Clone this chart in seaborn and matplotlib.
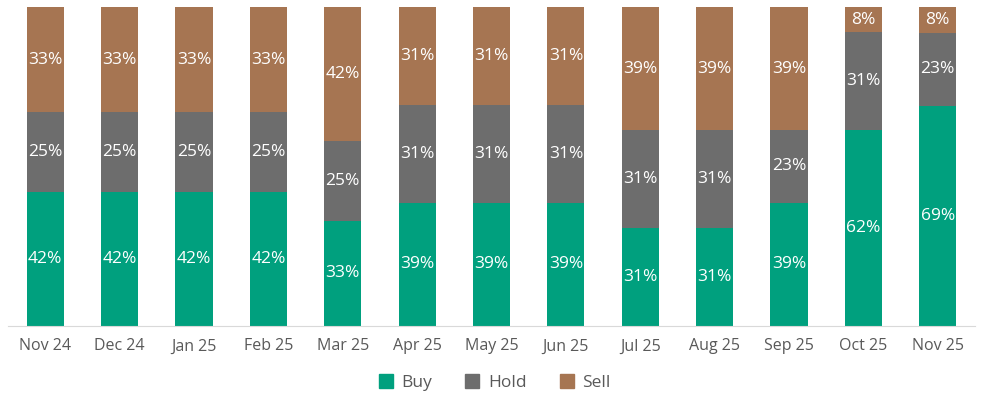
import matplotlib
matplotlib.use("Agg")
import matplotlib.pyplot as plt
import seaborn as sns
import pandas as pd
import numpy as np

# data (percent labels as shown)
months = ["Nov 24", "Dec 24", "Jan 25", "Feb 25", "Mar 25", "Apr 25", "May 25",
          "Jun 25", "Jul 25", "Aug 25", "Sep 25", "Oct 25", "Nov 25"]
buy = [42, 42, 42, 42, 33, 39, 39, 39, 31, 31, 39, 62, 69]
hold = [25, 25, 25, 25, 25, 31, 31, 31, 31, 31, 23, 31, 23]
sell = [33, 33, 33, 33, 42, 31, 31, 31, 39, 39, 39, 8, 8]

colors = {"Buy": "#00A07E", "Hold": "#6D6D6D", "Sell": "#A67552"}

df = pd.DataFrame({"month": months, "Buy": buy, "Hold": hold, "Sell": sell})
# rounded labels don't always add to 100, so scale each bar to 100
total = df[["Buy", "Hold", "Sell"]].sum(axis=1)
df["b"] = df["Buy"] / total * 100
df["bh"] = (df["Buy"] + df["Hold"]) / total * 100
df["bhs"] = 100.0

sns.set_style("white")
plt.rcParams["font.family"] = ["Open Sans", "DejaVu Sans"]

fig = plt.figure(figsize=(9.88, 3.99), dpi=100)
ax = fig.add_axes([8 / 988, 73 / 399, 967 / 988, 319 / 399])

# stacked bars: draw cumulative heights, tallest first
for col, key in [("bhs", "Sell"), ("bh", "Hold"), ("b", "Buy")]:
    sns.barplot(data=df, x="month", y=col, color=colors[key], width=0.5,
                saturation=1, linewidth=0, ax=ax)

# percent labels in the middle of each segment
for i in range(len(months)):
    lows = [0, df["b"][i], df["bh"][i]]
    highs = [df["b"][i], df["bh"][i], 100]
    vals = [buy[i], hold[i], sell[i]]
    for lo, hi, v in zip(lows, highs, vals):
        ax.text(i, (lo + hi) / 2, f"{v}%", ha="center", va="center",
                color="white", fontsize=12.5)

ax.set_xlim(-0.5, len(months) - 0.5)
ax.set_ylim(0, 100)
ax.set_xlabel("")
ax.set_ylabel("")
ax.set_yticks([])
for s in ["top", "left", "right"]:
    ax.spines[s].set_visible(False)
ax.spines["bottom"].set_color("#D9D9D9")
ax.tick_params(axis="x", length=0, pad=9, labelsize=11.5, labelcolor="#595959")

handles = [plt.Line2D([], [], marker="s", linestyle="", markersize=10,
                      color=colors[k], label=k) for k in ["Buy", "Hold", "Sell"]]
fig.legend(handles=handles, loc="center", bbox_to_anchor=(0.5, 16 / 399),
           ncol=3, frameon=False, fontsize=12.5, labelcolor="#595959",
           handletextpad=0.4, columnspacing=1.8, handlelength=1.0)

fig.savefig("out.png", dpi=100)
